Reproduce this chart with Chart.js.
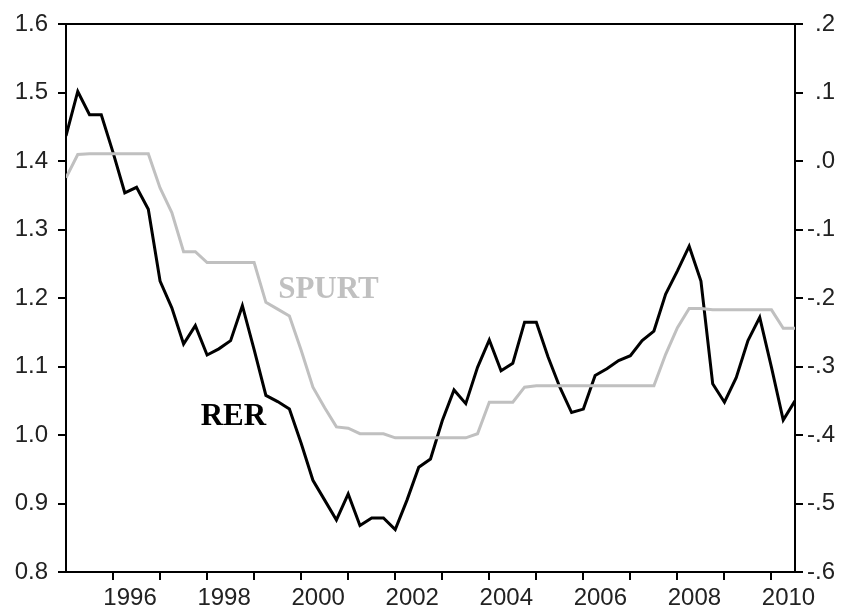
<!DOCTYPE html>
<html>
<head>
<meta charset="utf-8">
<script src="https://cdn.jsdelivr.net/npm/chart.js@4"></script>
<style>
  html, body { margin: 0; padding: 0; background: #fff; }
  #chart { display: block; }
</style>
</head>
<body>
<canvas id="chart" width="842" height="615"></canvas>
<script>
// quarterly data, 1995Q1 .. 2010Q3
const startYear = 1995;
const tickYears = [1996, 1997, 1998, 1999, 2000, 2001, 2002, 2003, 2004, 2005, 2006, 2007, 2008, 2009, 2010];

// RER, left axis
const rer = [1.437, 1.502, 1.468, 1.468, 1.413, 1.354, 1.362, 1.330, 1.225, 1.186, 1.133, 1.160,
  1.117, 1.126, 1.138, 1.189, 1.125, 1.058, 1.049, 1.038, 0.988, 0.934, 0.905, 0.876,
  0.914, 0.868, 0.879, 0.879, 0.862, 0.905, 0.953, 0.965, 1.021, 1.066, 1.046, 1.099,
  1.139, 1.094, 1.105, 1.165, 1.165, 1.114, 1.070, 1.033, 1.038, 1.087, 1.097, 1.109,
  1.116, 1.138, 1.152, 1.206, 1.240, 1.276, 1.225, 1.075, 1.048, 1.084, 1.138, 1.172,
  1.099, 1.022, 1.050];

// SPURT, right axis
const spurt = [-0.024, 0.010, 0.011, 0.011, 0.011, 0.011, 0.011, 0.011, -0.039, -0.075, -0.132, -0.132,
  -0.148, -0.148, -0.148, -0.148, -0.148, -0.206, -0.216, -0.226, -0.276, -0.330, -0.360, -0.388,
  -0.390, -0.398, -0.398, -0.398, -0.404, -0.404, -0.404, -0.404, -0.404, -0.404, -0.404, -0.398,
  -0.352, -0.352, -0.352, -0.330, -0.328, -0.328, -0.328, -0.328, -0.328, -0.328, -0.328, -0.328,
  -0.328, -0.328, -0.328, -0.282, -0.243, -0.215, -0.215, -0.217, -0.217, -0.217, -0.217, -0.217,
  -0.217, -0.244, -0.244];

const seriesLabels = [
  { text: 'RER', x: 1998.56, y: 1.027, axis: 'y', color: '#000' },
  { text: 'SPURT', x: 2000.58, y: -0.188, axis: 'y2', color: '#c0c0c0' }
];

const toPoints = arr => arr.map((v, i) => ({ x: startYear + i / 4, y: v }));

const tickFont = { family: 'Liberation Sans', size: 24 };
const tickColor = '#222';

const textLabels = {
  id: 'textLabels',
  afterDatasetsDraw(chart) {
    const ctx = chart.ctx;
    ctx.save();
    ctx.textAlign = 'center';
    ctx.textBaseline = 'middle';
    ctx.font = 'bold 31px "Liberation Serif"';
    seriesLabels.forEach(l => {
      ctx.fillStyle = l.color;
      ctx.fillText(l.text, chart.scales.x.getPixelForValue(l.x), chart.scales[l.axis].getPixelForValue(l.y));
    });
    ctx.restore();
  }
};

new Chart(document.getElementById('chart'), {
  type: 'line',
  data: {
    datasets: [
      { label: 'SPURT', data: toPoints(spurt), yAxisID: 'y2', borderColor: '#c0c0c0', borderWidth: 3, pointRadius: 0, tension: 0 },
      { label: 'RER', data: toPoints(rer), yAxisID: 'y', borderColor: '#000', borderWidth: 3, pointRadius: 0, tension: 0 }
    ]
  },
  options: {
    responsive: false,
    devicePixelRatio: 1,
    animation: false,
    layout: { padding: { left: 0, right: 7, top: 0, bottom: 0 } },
    plugins: { legend: { display: false }, tooltip: { enabled: false } },
    scales: {
      x: {
        type: 'linear', position: 'bottom', min: startYear, max: 2010.5,
        afterBuildTicks: s => { s.ticks = tickYears.map(v => ({ value: v })); },
        afterFit: s => { s.height = 43; },
        grid: { drawOnChartArea: false, drawTicks: true, tickLength: 8, color: '#000', lineWidth: 2 },
        border: { display: true, color: '#000', width: 2 },
        ticks: {
          autoSkip: false, maxRotation: 0, labelOffset: 17, padding: 4,
          font: tickFont, color: tickColor,
          callback: v => (v % 2 === 0 ? String(v) : '')
        }
      },
      xTop: {
        type: 'linear', position: 'top', min: startYear, max: 2010.5,
        afterFit: s => { s.height = 22; },
        grid: { drawOnChartArea: false, drawTicks: false },
        border: { display: true, color: '#000', width: 2 },
        ticks: { display: false }
      },
      y: {
        position: 'left', min: 0.8, max: 1.6,
        afterFit: s => { s.width = 66; },
        grid: { drawOnChartArea: false, drawTicks: true, tickLength: 8, color: '#000', lineWidth: 2 },
        border: { display: true, color: '#000', width: 2 },
        ticks: { stepSize: 0.1, padding: 10, font: tickFont, color: tickColor, callback: v => v.toFixed(1) }
      },
      y2: {
        position: 'right', min: -0.6, max: 0.2,
        afterFit: s => { s.width = 40; },
        grid: { drawOnChartArea: false, drawTicks: true, tickLength: 8, color: '#000', lineWidth: 2 },
        border: { display: true, color: '#000', width: 2 },
        ticks: {
          stepSize: 0.1, padding: 4, crossAlign: 'far', font: tickFont, color: tickColor,
          callback: v => v.toFixed(1).replace('0.', '.')
        }
      }
    }
  },
  plugins: [textLabels]
});
</script>
</body>
</html>
